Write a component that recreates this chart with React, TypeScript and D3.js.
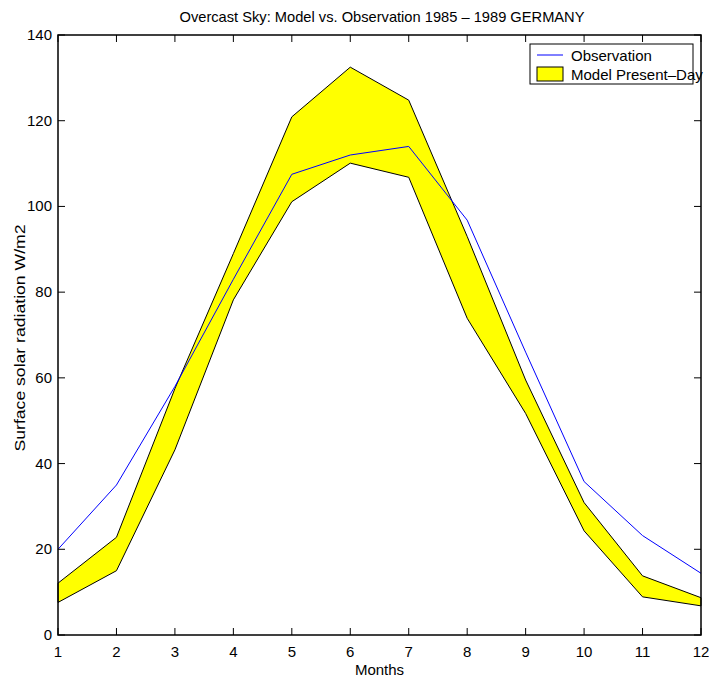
import { useEffect, useRef } from 'react';
import * as d3 from 'd3';

const months = [1, 2, 3, 4, 5, 6, 7, 8, 9, 10, 11, 12];
const observation = [20, 35, 58, 83, 107.5, 112, 114, 96.8, 66, 35.8, 23.2, 14.4];
const modelUpper = [12.1, 22.8, 57.5, 89, 120.9, 132.5, 124.8, 93, 59.5, 30.9, 13.8, 8.7];
const modelLower = [7.6, 15, 43.2, 78.2, 101.1, 110.1, 106.8, 73.9, 51.7, 24.3, 8.9, 6.8];
const yTicks = [0, 20, 40, 60, 80, 100, 120, 140];

const FONT = "'Liberation Sans', Arial, Helvetica, sans-serif";

export default function App() {
  const svgRef = useRef<SVGSVGElement | null>(null);

  useEffect(() => {
    if (!svgRef.current) return;
    const svg = d3.select(svgRef.current);
    svg.selectAll('*').remove();

    const left = 58, right = 701, top = 35, bottom = 635;

    const x = d3.scaleLinear().domain([1, 12]).range([left, right]);
    const y = d3.scaleLinear().domain([0, 140]).range([bottom, top]);

    // model band
    const band = months.map((m, i) => ({ m, lo: modelLower[i], hi: modelUpper[i] }));
    const area = d3.area<{ m: number; lo: number; hi: number }>()
      .x(d => x(d.m))
      .y0(d => y(d.lo))
      .y1(d => y(d.hi));
    svg.append('path')
      .attr('d', area(band) || '')
      .attr('fill', '#ffff00')
      .attr('stroke', '#000')
      .attr('stroke-width', 1);

    // observation line
    const line = d3.line<number>()
      .x((d, i) => x(months[i]))
      .y(d => y(d));
    svg.append('path')
      .attr('d', line(observation) || '')
      .attr('fill', 'none')
      .attr('stroke', '#0000ff')
      .attr('stroke-width', 1);

    // axes box
    svg.append('rect')
      .attr('x', left)
      .attr('y', top)
      .attr('width', right - left)
      .attr('height', bottom - top)
      .attr('fill', 'none')
      .attr('stroke', '#000')
      .attr('stroke-width', 1.5);

    const tickLen = 7;
    // x ticks (inward, bottom + top)
    months.forEach(m => {
      svg.append('line')
        .attr('x1', x(m)).attr('x2', x(m))
        .attr('y1', bottom).attr('y2', bottom - tickLen)
        .attr('stroke', '#000');
      svg.append('line')
        .attr('x1', x(m)).attr('x2', x(m))
        .attr('y1', top).attr('y2', top + tickLen)
        .attr('stroke', '#000');
      svg.append('text')
        .attr('x', x(m))
        .attr('y', bottom + 22)
        .attr('text-anchor', 'middle')
        .attr('font-family', FONT)
        .attr('font-size', 15)
        .text(m);
    });

    // y ticks (inward, left + right)
    yTicks.forEach(t => {
      svg.append('line')
        .attr('x1', left).attr('x2', left + tickLen)
        .attr('y1', y(t)).attr('y2', y(t))
        .attr('stroke', '#000');
      svg.append('line')
        .attr('x1', right).attr('x2', right - tickLen)
        .attr('y1', y(t)).attr('y2', y(t))
        .attr('stroke', '#000');
      svg.append('text')
        .attr('x', left - 6)
        .attr('y', y(t) + 5)
        .attr('text-anchor', 'end')
        .attr('font-family', FONT)
        .attr('font-size', 15)
        .text(t);
    });

    // title + axis labels
    svg.append('text')
      .attr('x', 382)
      .attr('y', 22)
      .attr('text-anchor', 'middle')
      .attr('font-family', FONT)
      .attr('font-size', 15)
      .attr('textLength', 405)
      .attr('lengthAdjust', 'spacingAndGlyphs')
      .text('Overcast Sky: Model vs. Observation 1985 \u2013 1989 GERMANY');

    svg.append('text')
      .attr('x', (left + right) / 2)
      .attr('y', 675)
      .attr('text-anchor', 'middle')
      .attr('font-family', FONT)
      .attr('font-size', 15)
      .text('Months');

    svg.append('text')
      .attr('transform', `translate(25,338) rotate(-90)`)
      .attr('text-anchor', 'middle')
      .attr('font-family', FONT)
      .attr('font-size', 15)
      .attr('textLength', 227)
      .attr('lengthAdjust', 'spacingAndGlyphs')
      .text('Surface solar radiation W/m2');

    // legend
    const lg = svg.append('g');
    lg.append('rect')
      .attr('x', 530).attr('y', 44)
      .attr('width', 163).attr('height', 40)
      .attr('fill', '#fff')
      .attr('stroke', '#000')
      .attr('stroke-width', 1);
    lg.append('line')
      .attr('x1', 537).attr('x2', 563)
      .attr('y1', 55).attr('y2', 55)
      .attr('stroke', '#0000ff');
    lg.append('text')
      .attr('x', 571).attr('y', 61)
      .attr('font-family', FONT)
      .attr('font-size', 15)
      .text('Observation');
    lg.append('rect')
      .attr('x', 537).attr('y', 67)
      .attr('width', 26).attr('height', 14)
      .attr('fill', '#ffff00')
      .attr('stroke', '#000');
    lg.append('text')
      .attr('x', 571).attr('y', 80)
      .attr('font-family', FONT)
      .attr('font-size', 15)
      .text('Model Present\u2013Day');
  }, []);

  return (
    <svg
      ref={svgRef}
      width={709}
      height={677}
      style={{ position: 'absolute', left: 0, top: 0, background: '#fff' }}
    />
  );
}
